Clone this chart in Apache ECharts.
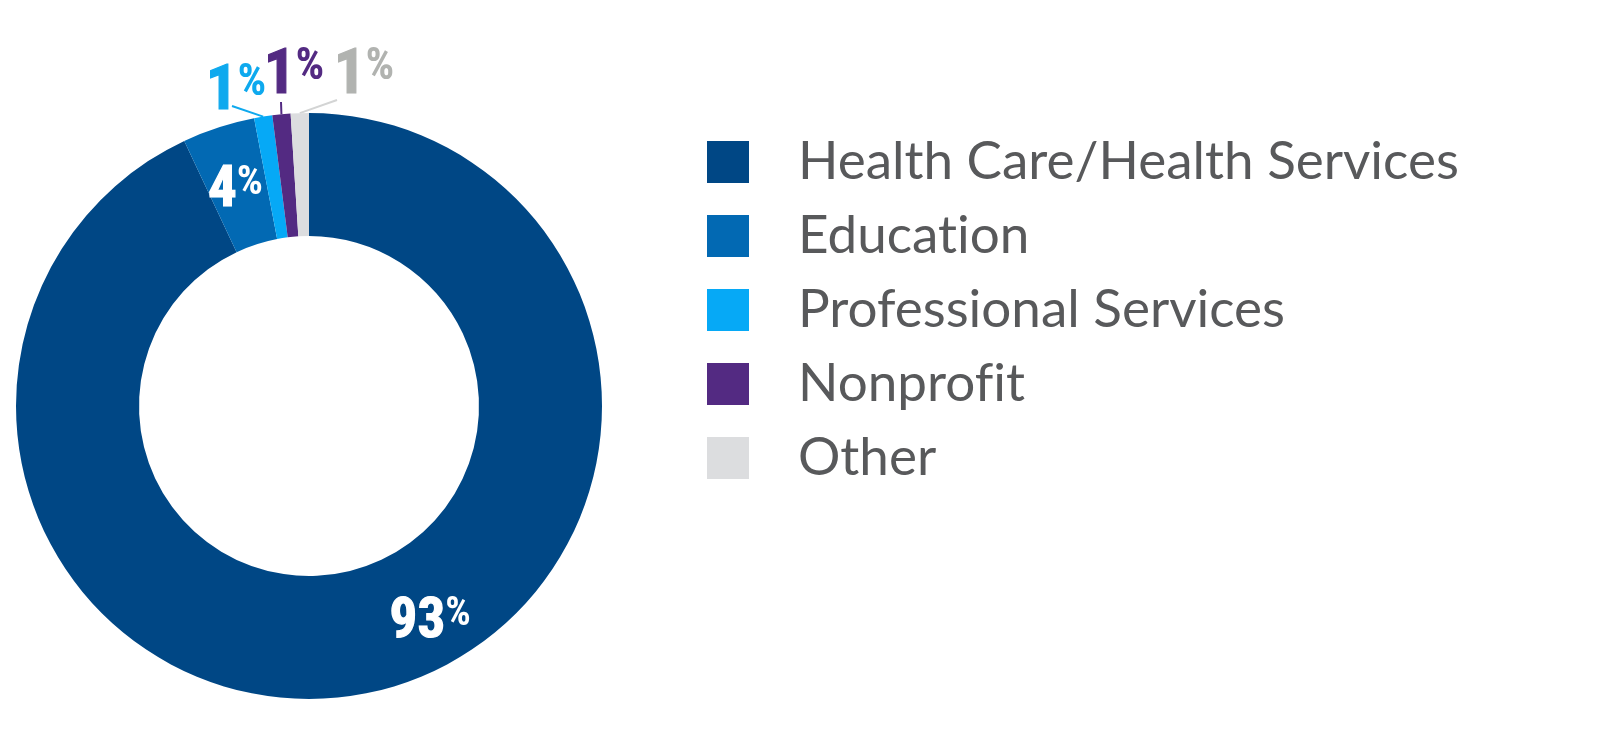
<!DOCTYPE html>
<html>
<head>
<meta charset="utf-8">
<script src="https://cdn.jsdelivr.net/npm/echarts@6/dist/echarts.min.js"></script>
<style>
  html, body { margin: 0; padding: 0; background: #fff; overflow: hidden; }
  #chart { width: 1600px; height: 741px; }
</style>
</head>
<body>
<div id="chart"></div>
<script>
const categories = ["Health Care/Health Services", "Education", "Professional Services", "Nonprofit", "Other"];
const shares = [93, 4, 1, 1, 1];
const colors = ["#004785", "#0269b3", "#06a9f6", "#532a82", "#dcdddf"];
const labelColors = ["#ffffff", "#ffffff", "#0ea9ee", "#532a82", "#b1b3b0"];
const lineColors = ["none", "none", "#0ea9ee", "#532a82", "#d3d4d4"];

const numFont = "'Liberation Sans Narrow', 'Roboto Condensed', 'Arial Narrow', Roboto, sans-serif";

const CX = 309, CY = 406, R_IN = 170, R_OUT = 293;

// which slices get an outside label with leader line
const outside = [false, false, true, true, true];
const numSize = [55, 57, 63, 63, 63];
// label tweaks (annotation placement only)
const insideShift = { 0: [70, -12], 1: [-1, 9] };
const outsidePos = { 2: [236, 93], 3: [294, 77], 4: [364, 77] };
const lineStart = { 2: [232, 106], 3: [281, 102], 4: [337, 100] };

// mid angle of each slice on the outer rim, from the data
const total = shares.reduce((a, b) => a + b, 0);
function rimPoint(i) {
    let before = 0;
    for (let k = 0; k < i; k++) before += shares[k];
    const mid = (before + shares[i] / 2) / total * 2 * Math.PI;
    const ang = Math.PI / 2 - mid; // clockwise from 12 o'clock
    return [CX + R_OUT * Math.cos(ang), CY - R_OUT * Math.sin(ang)];
}

const chart = echarts.init(document.getElementById("chart"));

const data = categories.map((name, i) => ({
    name: name,
    value: shares[i],
    itemStyle: { color: colors[i] },
    label: {
        position: outside[i] ? "outside" : "inside",
        formatter: "{n|{c}}{p|%}",
        rich: {
            n: {
                fontFamily: numFont, fontWeight: "bold", fontSize: numSize[i], color: labelColors[i],
                lineHeight: numSize[i], textBorderColor: labelColors[i], textBorderWidth: 1.2
            },
            p: {
                fontFamily: numFont, fontWeight: "bold", fontSize: Math.round(numSize[i] * 0.72), color: labelColors[i],
                verticalAlign: "top", padding: [0, 0, numSize[i] * 0.22, 0]
            }
        }
    },
    labelLine: {
        show: outside[i],
        length: 8,
        length2: 0,
        lineStyle: { color: lineColors[i], width: 2 }
    }
}));

chart.setOption({
    animation: false,
    legend: {
        orient: "vertical",
        left: 707,
        top: 135.5,
        padding: 0,
        itemWidth: 42,
        itemHeight: 42,
        itemGap: 21,
        icon: "rect",
        selectedMode: false,
        formatter: name => name.replace(/ti/g, "t\u200Ci").replace(/fi/g, "f\u200Ci"),
        textStyle: {
            fontFamily: "Lato, 'Open Sans', sans-serif",
            fontSize: 53,
            color: "#58595b",
            padding: [0, 0, 0, 44]
        },
        data: categories
    },
    series: [{
        type: "pie",
        center: [CX, CY],
        radius: [R_IN, R_OUT],
        startAngle: 90,
        clockwise: true,
        avoidLabelOverlap: false,
        silent: true,
        labelLayout: params => {
            const i = params.dataIndex;
            if (outsidePos[i]) {
                const p = rimPoint(i);
                return {
                    x: outsidePos[i][0], y: outsidePos[i][1],
                    align: "center", verticalAlign: "middle",
                    labelLinePoints: [lineStart[i], lineStart[i], p]
                };
            }
            if (insideShift[i]) {
                return { dx: insideShift[i][0], dy: insideShift[i][1] };
            }
            return {};
        },
        data: data
    }]
});
</script>
</body>
</html>
